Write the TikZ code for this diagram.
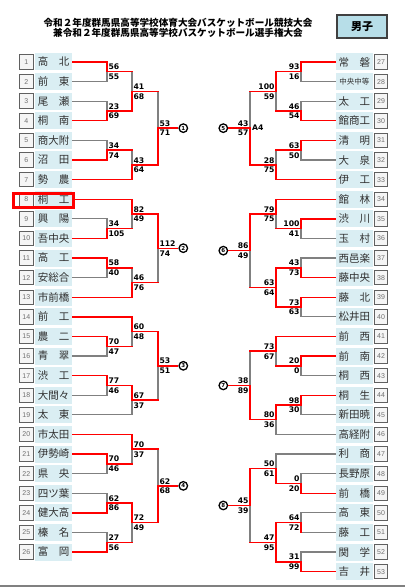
\documentclass[tikz,border=0pt]{standalone}
\usepackage{fontspec}
\setmainfont{Liberation Sans}
\newfontfamily\jp{Noto Sans CJK JP}
\newfontfamily\dv{DejaVu Sans}
\usetikzlibrary{calc}
\pgfdeclarelayer{bg}
\pgfdeclarelayer{paper}
\pgfsetlayers{paper,bg,main}
\definecolor{lred}{HTML}{FF0000}
\definecolor{lgray}{HTML}{808080}
\definecolor{nameblue}{HTML}{DAEEF3}
\definecolor{sexblue}{HTML}{B7DEE8}
\definecolor{numfill}{HTML}{F5F5F5}
\definecolor{numdraw}{HTML}{606060}
\definecolor{numtext}{HTML}{707070}
\definecolor{nametext}{HTML}{303030}
\tikzset{
 win/.style={draw=lred, line width=1.4pt, line cap=rect},
 lose/.style={draw=lgray, line width=1.2pt, line cap=rect},
 namebox/.style={fill=nameblue, minimum width=37pt, minimum height=17pt, inner sep=0pt, text=nametext, font=\jp\fontsize{10.5}{11}\selectfont},
 numbox/.style={draw=numdraw, line width=0.9pt, fill=numfill, minimum width=13.5pt, minimum height=14.5pt, inner sep=0pt, text=numtext, font=\fontsize{7}{8}\selectfont},
 score/.style={inner sep=0pt, font=\dv\bfseries\fontsize{7.7}{8}\selectfont},
 circ/.style={circle, draw=black, line width=1.3pt, fill=white, minimum size=8.5pt, inner sep=0pt, font=\dv\bfseries\fontsize{5.5}{5.5}\selectfont},
}
\newcommand{\two}[2]{\makebox[31.5pt][s]{#1\hfill#2}}
\newcommand{\seg}[3]{\if#1r\draw[win] (#2) -- (#3);\else\begin{pgfonlayer}{bg}\draw[lose] (#2) -- (#3);\end{pgfonlayer}\fi}
\newcommand{\br}[4]{\seg{#3}{#1}{#2 |- #1}\seg{#4}{#2 |- #1}{#2}}
\newcommand{\mL}[9]{\br{#2}{#1}{#4}{#5}\br{#3}{#1}{#6}{#7}%
 \node[score, anchor=south west] (#1-s1) at ([shift={(1.3pt,1.5pt)}]#1) {#8};%
 \node[score, anchor=north west] (#1-s2) at ([shift={(1.3pt,-2pt)}]#1) {#9};}
\newcommand{\mR}[9]{\br{#2}{#1}{#4}{#5}\br{#3}{#1}{#6}{#7}%
 \node[score, anchor=south east] (#1-s1) at ([shift={(-1.3pt,1.5pt)}]#1) {#8};%
 \node[score, anchor=north east] (#1-s2) at ([shift={(-1.3pt,-2pt)}]#1) {#9};}
\newcommand{\teamL}[2]{\node[numbox] (n#1) at (26.3,#1) {#1};\node[namebox] (t#1) at (53.5,#1) {#2};}
\newcommand{\teamR}[3]{\node[namebox] (t#2) at (354.3,#1) {#3};\node[numbox] (n#2) at (381,#1) {#2};}
\begin{document}
\begin{tikzpicture}[x=1pt,y=1pt]
\begin{pgfonlayer}{paper}
\fill[white] (0,0) rectangle (405,-588);
\end{pgfonlayer}
\useasboundingbox (0,0) rectangle (405,-588);
\node[font=\jp\bfseries\fontsize{9.6}{10}\selectfont, inner sep=0pt] (title1) at (178,-22.7) {令和２年度群馬県高等学校体育大会バスケットボール競技大会};
\node[font=\jp\bfseries\fontsize{9.6}{10}\selectfont, inner sep=0pt] (title2) at (178,-32.7) {兼令和２年度群馬県高等学校バスケットボール選手権大会};
\node[draw=black!75, line width=1.2pt, fill=sexblue, minimum width=50pt, minimum height=23pt, inner sep=0pt, font=\jp\bfseries\fontsize{11}{12}\selectfont] (sex) at (362,-26.5) {男子};
\coordinate (bl) at (0,-586);
\coordinate (br) at (405,-586);
\draw[draw=black!50, line width=1.6pt] (bl) -- (br);
\begin{scope}[y=-19.6pt, shift={(0pt,-42.4pt)}]
\teamL{1}{\two{高}{北}}
\teamL{2}{\two{前}{東}}
\teamL{3}{\two{尾}{瀬}}
\teamL{4}{\two{桐}{南}}
\teamL{5}{商大附}
\teamL{6}{\two{沼}{田}}
\teamL{7}{\two{勢}{農}}
\teamL{8}{\two{桐}{工}}
\teamL{9}{\two{興}{陽}}
\teamL{10}{吾中央}
\teamL{11}{\two{高}{工}}
\teamL{12}{安総合}
\teamL{13}{市前橋}
\teamL{14}{\two{前}{工}}
\teamL{15}{\two{農}{二}}
\teamL{16}{\two{青}{翠}}
\teamL{17}{\two{渋}{工}}
\teamL{18}{大間々}
\teamL{19}{\two{太}{東}}
\teamL{20}{市太田}
\teamL{21}{伊勢崎}
\teamL{22}{\two{県}{央}}
\teamL{23}{四ツ葉}
\teamL{24}{健大高}
\teamL{25}{\two{榛}{名}}
\teamL{26}{\two{富}{岡}}
\teamR{1}{27}{\two{常}{磐}}
\teamR{2}{28}{{\fontsize{7.5}{8}\selectfont 中央中等}}
\teamR{3}{29}{\two{太}{工}}
\teamR{4}{30}{館商工}
\teamR{5}{31}{\two{清}{明}}
\teamR{6}{32}{\two{大}{泉}}
\teamR{7}{33}{\two{伊}{工}}
\teamR{8}{34}{\two{館}{林}}
\teamR{9}{35}{\two{渋}{川}}
\teamR{10}{36}{\two{玉}{村}}
\teamR{11}{37}{西邑楽}
\teamR{12}{38}{藤中央}
\teamR{13}{39}{\two{藤}{北}}
\teamR{14}{40}{松井田}
\teamR{15}{41}{\two{前}{西}}
\teamR{16}{42}{\two{前}{南}}
\teamR{17}{43}{\two{桐}{西}}
\teamR{18}{44}{\two{桐}{生}}
\teamR{19}{45}{新田暁}
\teamR{20}{46}{高経附}
\teamR{21}{47}{\two{利}{商}}
\teamR{22}{48}{長野原}
\teamR{23}{49}{\two{前}{橋}}
\teamR{24}{50}{\two{高}{東}}
\teamR{25}{51}{\two{藤}{工}}
\teamR{26}{52}{\two{関}{学}}
\teamR{27}{53}{\two{吉}{井}}
\node[draw=lred, line width=2.8pt, minimum width=59.9pt, minimum height=13.9pt, inner sep=0pt, yshift=-1.5pt] (hl) at (43.65,8) {};
% left junctions
\coordinate (La) at (107,1.5);
\coordinate (Lb) at (107,3.5);
\coordinate (Lc) at (132,2.5);
\coordinate (Ld) at (107,5.5);
\coordinate (Le) at (132,6.25);
\coordinate (Lf) at (158,4.375);
\coordinate (Lg) at (107,9.5);
\coordinate (Lh) at (132,8.75);
\coordinate (Li) at (107,11.5);
\coordinate (Lj) at (132,12.25);
\coordinate (Lk) at (158,10.5);
\coordinate (Ll) at (107,15.5);
\coordinate (Lm) at (132,14.75);
\coordinate (Ln) at (107,17.5);
\coordinate (Lo) at (132,18.25);
\coordinate (Lq) at (158,16.5);
\coordinate (Lr) at (107,21.5);
\coordinate (Ls) at (132,20.75);
\coordinate (Lt) at (107,23.5);
\coordinate (Lu) at (107,25.5);
\coordinate (Lv) at (132,24.5);
\coordinate (Lw) at (158,22.625);
% right junctions
\coordinate (RA) at (301,1.5);
\coordinate (RB) at (301,3.5);
\coordinate (RC) at (276,2.5);
\coordinate (RD) at (301,5.5);
\coordinate (RE) at (276,6.25);
\coordinate (RF) at (250,4.375);
\coordinate (RG) at (301,9.5);
\coordinate (RH) at (276,8.75);
\coordinate (RI) at (301,11.5);
\coordinate (RJ) at (301,13.5);
\coordinate (RK) at (276,12.5);
\coordinate (RL) at (250,10.625);
\coordinate (RM) at (301,16.5);
\coordinate (RN) at (276,15.75);
\coordinate (RO) at (301,18.5);
\coordinate (RP) at (276,19.25);
\coordinate (RQ) at (250,17.5);
\coordinate (RR) at (301,22.5);
\coordinate (RS) at (276,21.75);
\coordinate (RT) at (301,24.5);
\coordinate (RU) at (301,26.5);
\coordinate (RV) at (276,25.5);
\coordinate (RW) at (250,23.625);
% left matches
\mL{La}{t1.east}{t2.east}{r}{r}{g}{g}{56}{55}
\mL{Lb}{t3.east}{t4.east}{g}{g}{r}{r}{23}{69}
\mL{Lc}{La}{Lb}{r}{g}{r}{r}{41}{68}
\mL{Ld}{t5.east}{t6.east}{g}{g}{r}{r}{34}{74}
\mL{Le}{Ld}{t7.east}{r}{g}{r}{r}{43}{64}
\mL{Lf}{Lc}{Le}{r}{g}{r}{r}{53}{71}
\mL{Lg}{t9.east}{t10.east}{g}{g}{r}{r}{34}{105}
\mL{Lh}{t8.east}{Lg}{r}{r}{r}{g}{82}{49}
\mL{Li}{t11.east}{t12.east}{r}{r}{g}{g}{58}{40}
\mL{Lj}{Li}{t13.east}{r}{g}{r}{r}{46}{76}
\mL{Lk}{Lh}{Lj}{r}{r}{r}{g}{112}{74}
\mL{Ll}{t15.east}{t16.east}{r}{r}{g}{g}{70}{47}
\mL{Lm}{t14.east}{Ll}{r}{r}{r}{g}{60}{48}
\mL{Ln}{t17.east}{t18.east}{r}{r}{g}{g}{77}{46}
\mL{Lo}{Ln}{t19.east}{r}{r}{g}{g}{67}{37}
\mL{Lq}{Lm}{Lo}{r}{r}{r}{g}{53}{51}
\mL{Lr}{t21.east}{t22.east}{r}{r}{g}{g}{70}{46}
\mL{Ls}{t20.east}{Lr}{r}{r}{r}{g}{70}{37}
\mL{Lt}{t23.east}{t24.east}{g}{g}{r}{r}{62}{86}
\mL{Lu}{t25.east}{t26.east}{g}{g}{r}{r}{27}{56}
\mL{Lv}{Lt}{Lu}{r}{r}{r}{g}{72}{49}
\mL{Lw}{Ls}{Lv}{r}{g}{r}{r}{62}{68}
% right matches
\mR{RA}{t27.west}{t28.west}{r}{r}{g}{g}{93}{16}
\mR{RB}{t29.west}{t30.west}{g}{g}{r}{r}{46}{54}
\mR{RC}{RA}{RB}{r}{r}{r}{g}{100}{59}
\mR{RD}{t31.west}{t32.west}{r}{r}{g}{g}{63}{50}
\mR{RE}{RD}{t33.west}{r}{g}{r}{r}{28}{75}
\mR{RF}{RC}{RE}{r}{g}{r}{r}{43}{57}
\mR{RG}{t35.west}{t36.west}{r}{r}{g}{g}{100}{41}
\mR{RH}{t34.west}{RG}{r}{r}{r}{g}{79}{75}
\mR{RI}{t37.west}{t38.west}{g}{g}{r}{r}{43}{73}
\mR{RJ}{t39.west}{t40.west}{r}{r}{g}{g}{73}{63}
\mR{RK}{RI}{RJ}{r}{r}{r}{r}{63}{64}
\mR{RL}{RH}{RK}{r}{r}{r}{g}{86}{49}
\mR{RM}{t42.west}{t43.west}{r}{r}{g}{g}{20}{0}
\mR{RN}{t41.west}{RM}{r}{r}{r}{g}{73}{67}
\mR{RO}{t44.west}{t45.west}{r}{r}{g}{g}{98}{30}
\mR{RP}{RO}{t46.west}{r}{r}{g}{g}{80}{36}
\mR{RQ}{RN}{RP}{r}{g}{r}{r}{38}{89}
\mR{RR}{t48.west}{t49.west}{g}{g}{r}{r}{0}{20}
\mR{RS}{t47.west}{RR}{g}{g}{r}{r}{50}{61}
\mR{RT}{t50.west}{t51.west}{g}{g}{g}{r}{64}{72}
\mR{RU}{t52.west}{t53.west}{g}{g}{r}{r}{31}{99}
\mR{RV}{RT}{RU}{r}{r}{r}{r}{47}{95}
\mR{RW}{RS}{RV}{r}{r}{r}{g}{45}{39}
\node[score, anchor=west] (a4) at ([xshift=2pt]RF) {A4};
% block circles
\node[circ] (c1) at (183.3,4.375) {1};
\node[circ] (c2) at (183.3,10.5) {2};
\node[circ] (c3) at (183.3,16.5) {3};
\node[circ] (c4) at (183.3,22.625) {4};
\node[circ] (c5) at (223.3,4.375) {5};
\node[circ] (c6) at (223.3,10.625) {6};
\node[circ] (c7) at (223.3,17.5) {7};
\node[circ] (c8) at (223.3,23.625) {8};
\draw[win, line cap=butt] (Lf) -- (c1);
\draw[win, line cap=butt] (Lk) -- (c2);
\draw[win, line cap=butt] (Lq) -- (c3);
\draw[win, line cap=butt] (Lw) -- (c4);
\draw[win, line cap=butt] (RF) -- (c5);
\draw[win, line cap=butt] (RL) -- (c6);
\draw[win, line cap=butt] (RQ) -- (c7);
\draw[win, line cap=butt] (RW) -- (c8);
\end{scope}
\end{tikzpicture}
\end{document}
